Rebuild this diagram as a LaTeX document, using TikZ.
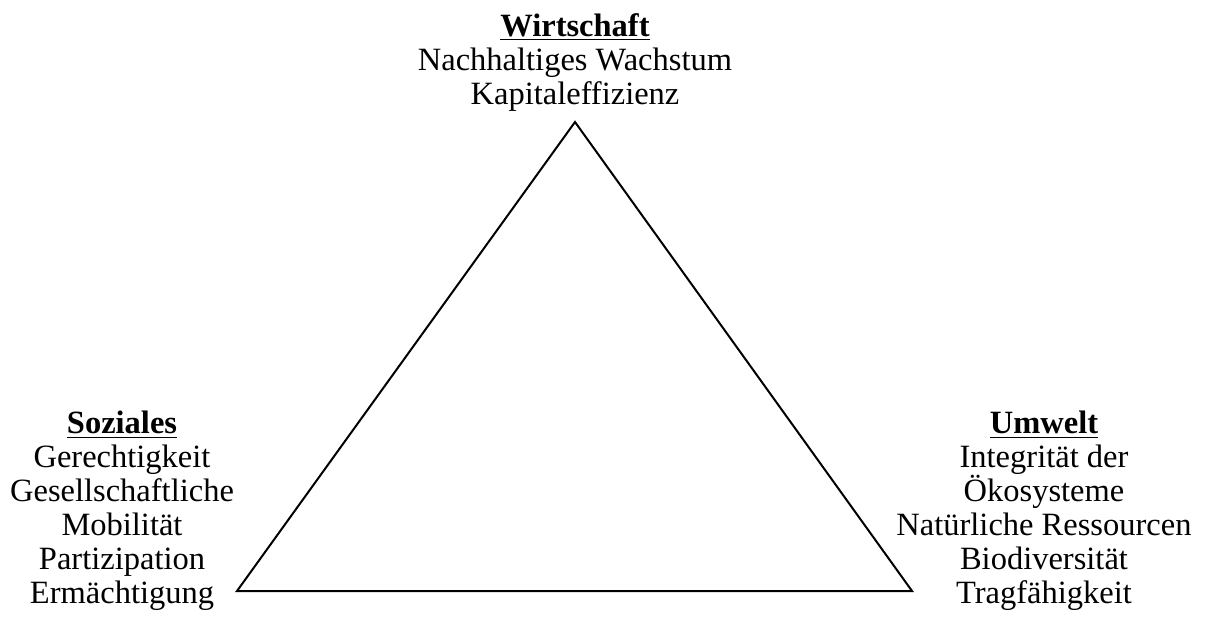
\documentclass[tikz,border=0pt]{standalone}
\usepackage{fontspec}
\setmainfont{Liberation Serif}
\begin{document}
\begin{tikzpicture}[x=0.5pt,y=-0.5pt,
  lbl/.style={align=center,inner sep=0pt,anchor=north,
    font=\fontsize{16.25pt}{17pt}\selectfont},
  edge/.style={line width=1pt,line join=miter}]
\useasboundingbox (0,0) rectangle (1205,632);
\coordinate (top) at (575,122);
\coordinate (bl) at (237,591);
\coordinate (br) at (912,591);
\draw[edge] (top) -- (bl) -- (br) -- cycle;
\node[lbl] (w) at (575,13) {\underline{\textbf{Wirtschaft}}\\Nachhaltiges Wachstum\\Kapitaleffizienz};
\node[lbl] (s) at (122,411) {\underline{\textbf{Soziales}}\\Gerechtigkeit\\Gesellschaftliche\\Mobilität\\Partizipation\\Ermächtigung};
\node[lbl] (u) at (1044,411) {\underline{\textbf{Umwelt}}\\Integrität der\\Ökosysteme\\Natürliche Ressourcen\\Biodiversität\\Tragfähigkeit};
\end{tikzpicture}
\end{document}
